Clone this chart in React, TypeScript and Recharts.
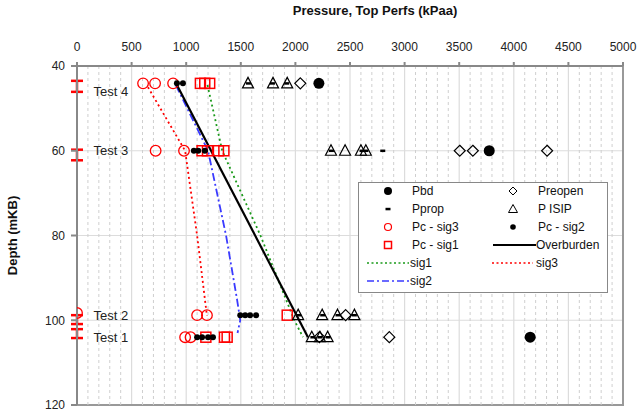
import React from "react";
import {
  ScatterChart,
  Scatter,
  XAxis,
  YAxis,
  CartesianGrid,
  ReferenceLine,
  ReferenceArea,
  ErrorBar,
  LabelList,
} from "recharts";

type Pt = { x: number; y: number };

// axes
const xTicks = [0, 500, 1000, 1500, 2000, 2500, 3000, 3500, 4000, 4500, 5000];
const yTicks = [40, 60, 80, 100, 120];
const minorX: number[] = [];
for (let v = 100; v < 5000; v += 100) if (v % 500 !== 0) minorX.push(v);

// test intervals (perf depth, half span) and label depth
const tests = [
  { x: 0, y: 44.8, span: 1.3, label: "Test 4", labelY: 45.9 },
  { x: 0, y: 61.0, span: 1.25, label: "Test 3", labelY: 60.0 },
  { x: 0, y: 99.85, span: 1.05, label: "Test 2", labelY: 98.9 },
  { x: 0, y: 103.15, span: 1.05, label: "Test 1", labelY: 104.0 },
];

// point data
const pbd: Pt[] = [
  { x: 2215, y: 44.1 },
  { x: 3775, y: 60 },
  { x: 4150, y: 104 },
];
const pprop: Pt[] = [
  { x: 1570, y: 44.1 }, { x: 1790, y: 44.1 }, { x: 1920, y: 44.1 },
  { x: 1175, y: 60 }, { x: 2330, y: 60 }, { x: 2610, y: 60 }, { x: 2645, y: 60 }, { x: 2800, y: 60 },
  { x: 2030, y: 98.8 }, { x: 2250, y: 98.8 }, { x: 2390, y: 98.8 }, { x: 2540, y: 98.8 },
  { x: 2160, y: 104 }, { x: 2225, y: 104 }, { x: 2300, y: 104 },
];
const preopen: Pt[] = [
  { x: 2045, y: 44.1 },
  { x: 3505, y: 60 }, { x: 3625, y: 60 }, { x: 4305, y: 60 },
  { x: 2460, y: 98.8 },
  { x: 2220, y: 104 }, { x: 2860, y: 104 },
];
const pisip: Pt[] = [
  { x: 1566, y: 44.1 }, { x: 1795, y: 44.1 }, { x: 1925, y: 44.1 },
  { x: 2326, y: 60 }, { x: 2455, y: 60 }, { x: 2600, y: 60 }, { x: 2645, y: 60 },
  { x: 2025, y: 98.8 }, { x: 2245, y: 98.8 }, { x: 2385, y: 98.8 }, { x: 2540, y: 98.8 },
  { x: 2150, y: 104 }, { x: 2225, y: 104 }, { x: 2295, y: 104 },
];
const pcSig3: Pt[] = [
  { x: 605, y: 44.1 }, { x: 715, y: 44.1 }, { x: 880, y: 44.1 },
  { x: 720, y: 60 }, { x: 980, y: 60 },
  { x: 0, y: 98.3 }, { x: 1100, y: 98.8 }, { x: 1190, y: 98.8 },
  { x: 990, y: 104 }, { x: 1040, y: 104 },
];
const pcSig2: Pt[] = [
  { x: 915, y: 44.1 }, { x: 970, y: 44.1 },
  { x: 1070, y: 60 }, { x: 1110, y: 60 }, { x: 1170, y: 60 },
  { x: 1495, y: 98.8 }, { x: 1540, y: 98.8 }, { x: 1585, y: 98.8 }, { x: 1640, y: 98.8 },
  { x: 1100, y: 104 }, { x: 1145, y: 104 }, { x: 1200, y: 104 }, { x: 1245, y: 104 },
];
const pcSig1: Pt[] = [
  { x: 1130, y: 44.1 }, { x: 1170, y: 44.1 }, { x: 1215, y: 44.1 },
  { x: 1145, y: 60 }, { x: 1195, y: 60 }, { x: 1295, y: 60 }, { x: 1345, y: 60 },
  { x: 1925, y: 98.8 },
  { x: 1180, y: 104 }, { x: 1350, y: 104 }, { x: 1375, y: 104 },
];

// line data
const overburden: Pt[] = [
  { x: 915, y: 44.5 },
  { x: 2115, y: 104 },
];
const sig1: Pt[] = [
  { x: 1195, y: 44.5 },
  { x: 1330, y: 60 },
  { x: 1680, y: 80 },
  { x: 1990, y: 100 },
  { x: 2070, y: 104 },
];
const sig3: Pt[] = [
  { x: 650, y: 45 },
  { x: 990, y: 60 },
  { x: 1100, y: 80 },
  { x: 1190, y: 99 },
];
const sig2: Pt[] = [
  { x: 905, y: 44.5 },
  { x: 1200, y: 60 },
  { x: 1365, y: 80 },
  { x: 1465, y: 95 },
  { x: 1495, y: 100 },
  { x: 1470, y: 103 },
];

const RED = "#ff0000";
const GREEN = "#1a9a1a";
const BLUE = "#3a3aff";
const FONT = "'Liberation Sans', Arial, sans-serif";

const none = () => <g />;
const pbdShape = (p: any) => <circle cx={p.cx} cy={p.cy} r={5.5} fill="#000" />;
const ppropShape = (p: any) => <rect x={p.cx - 2.5} y={p.cy - 1.2} width={5} height={2.5} fill="#000" />;
const sig3Shape = (p: any) => <circle cx={p.cx} cy={p.cy} r={5.3} fill="none" stroke={RED} strokeWidth={1.3} />;
const sig2Shape = (p: any) => <circle cx={p.cx} cy={p.cy} r={3} fill="#000" />;
const sig1Shape = (p: any) => (
  <rect x={p.cx - 5} y={p.cy - 5} width={10} height={10} fill="none" stroke={RED} strokeWidth={1.5} />
);
const triShape = (p: any) => (
  <polygon
    points={`${p.cx},${p.cy - 6} ${p.cx - 5.5},${p.cy + 4.5} ${p.cx + 5.5},${p.cy + 4.5}`}
    fill="none"
    stroke="#000"
    strokeWidth={1.2}
  />
);
const diaShape = (p: any) => (
  <polygon
    points={`${p.cx},${p.cy - 5.5} ${p.cx + 5.5},${p.cy} ${p.cx},${p.cy + 5.5} ${p.cx - 5.5},${p.cy}`}
    fill="none"
    stroke="#000"
    strokeWidth={1.2}
  />
);

function LegendBox() {
  const rows = [9, 27, 45, 63, 81, 99];
  const lx = 30;
  const rx = 155;
  const txt = (x: number, y: number, s: string) => (
    <text x={x} y={y} dy="0.35em" fontSize={12} fontFamily={FONT} fill="#111">
      {s}
    </text>
  );
  return (
    <svg
      width={250}
      height={111}
      style={{ position: "absolute", left: 358, top: 182 }}
    >
      <rect x={0.5} y={0.5} width={249} height={110} fill="#fff" stroke="#888" />
      <circle cx={lx} cy={rows[0]} r={4} fill="#000" />
      {txt(54, rows[0], "Pbd")}
      <rect x={lx - 2.5} y={rows[1] - 1.2} width={5} height={2.5} fill="#000" />
      {txt(54, rows[1], "Pprop")}
      <circle cx={lx} cy={rows[2]} r={3.5} fill="none" stroke={RED} strokeWidth={1.2} />
      {txt(54, rows[2], "Pc - sig3")}
      <rect x={lx - 3.5} y={rows[3] - 3.5} width={7} height={7} fill="none" stroke={RED} strokeWidth={1.5} />
      {txt(54, rows[3], "Pc - sig1")}
      <line x1={9} x2={51} y1={rows[4]} y2={rows[4]} stroke={GREEN} strokeWidth={1.5} strokeDasharray="2 2.5" />
      {txt(52, rows[4], "sig1")}
      <line x1={9} x2={51} y1={rows[5]} y2={rows[5]} stroke={BLUE} strokeWidth={1.5} strokeDasharray="7 3 2 3" />
      {txt(52, rows[5], "sig2")}

      <polygon
        points={`${rx},${rows[0] - 4} ${rx + 4},${rows[0]} ${rx},${rows[0] + 4} ${rx - 4},${rows[0]}`}
        fill="none"
        stroke="#000"
      />
      {txt(180, rows[0], "Preopen")}
      <polygon
        points={`${rx},${rows[1] - 4.5} ${rx - 4.5},${rows[1] + 3.5} ${rx + 4.5},${rows[1] + 3.5}`}
        fill="none"
        stroke="#000"
      />
      {txt(180, rows[1], "P ISIP")}
      <circle cx={rx} cy={rows[2]} r={2.8} fill="#000" />
      {txt(180, rows[2], "Pc - sig2")}
      <line x1={135} x2={178} y1={rows[3]} y2={rows[3]} stroke="#000" strokeWidth={2} />
      {txt(178, rows[3], "Overburden")}
      <line x1={134} x2={175} y1={rows[4]} y2={rows[4]} stroke={RED} strokeWidth={1.5} strokeDasharray="2 2.5" />
      {txt(178, rows[4], "sig3")}
    </svg>
  );
}

const lineSeries = (data: Pt[], stroke: string, width: number, dash?: string) => (
  <Scatter
    data={data}
    shape={none}
    line={{ stroke, strokeWidth: width, strokeDasharray: dash }}
    lineType="joint"
    legendType="none"
    isAnimationActive={false}
  />
);

export default function App() {
  return (
    <div style={{ position: "absolute", left: 0, top: 0, width: 638, height: 412, background: "#fff", fontFamily: FONT }}>
      <ScatterChart width={638} height={412} margin={{ top: 0, right: 15, bottom: 7, left: 0 }}>
        {minorX.map((v) => (
          <ReferenceLine key={v} x={v} stroke="#cfcfcf" strokeDasharray="3 3" />
        ))}
        <CartesianGrid stroke="#dcdcdc" strokeWidth={1.2} />
        <ReferenceArea x1={0} x2={5000} y1={40} y2={120} fill="none" stroke="#999" strokeWidth={2} />
        <XAxis
          type="number"
          dataKey="x"
          orientation="top"
          domain={[0, 5000]}
          ticks={xTicks}
          height={66}
          tickSize={4}
          tickMargin={11}
          allowDataOverflow
          stroke="#888"
          strokeWidth={2}
          tick={{ fontSize: 12, fill: "#222", fontFamily: FONT }}
          label={{
            value: "Pressure, Top Perfs (kPaa)",
            position: "insideTop",
            offset: 6,
            dx: 25,
            style: { fontSize: 13, fontWeight: "bold", fill: "#111", fontFamily: FONT },
          }}
        />
        <YAxis
          type="number"
          dataKey="y"
          reversed
          domain={[40, 120]}
          ticks={yTicks}
          width={77}
          tickSize={6}
          tickMargin={6}
          allowDataOverflow
          stroke="#888"
          strokeWidth={2}
          tick={{ fontSize: 12, fill: "#222", fontFamily: FONT }}
          label={{
            value: "Depth (mKB)",
            angle: -90,
            position: "insideLeft",
            offset: 12,
            style: { fontSize: 13, fontWeight: "bold", fill: "#111", fontFamily: FONT, textAnchor: "middle" },
          }}
        />

        {lineSeries(sig3, RED, 1.8, "2 3")}
        {lineSeries(sig2, BLUE, 1.8, "8 3 2 3")}
        {lineSeries(sig1, GREEN, 1.8, "2 3")}
        {lineSeries(overburden, "#000", 2.2)}

        <Scatter data={tests} shape={none} legendType="none" isAnimationActive={false}>
          <ErrorBar dataKey="span" direction="y" width={6} stroke={RED} strokeWidth={2.5} />
        </Scatter>
        <Scatter
          data={tests.map((t) => ({ x: t.x, y: t.labelY, label: t.label }))}
          shape={none}
          legendType="none"
          isAnimationActive={false}
        >
          <LabelList
            dataKey="label"
            position="right"
            offset={12}
            style={{ fontSize: 13, fill: "#222", fontFamily: FONT }}
          />
        </Scatter>

        <Scatter data={pcSig3} shape={sig3Shape} isAnimationActive={false} />
        <Scatter data={pcSig1} shape={sig1Shape} isAnimationActive={false} />
        <Scatter data={pcSig2} shape={sig2Shape} isAnimationActive={false} />
        <Scatter data={pisip} shape={triShape} isAnimationActive={false} />
        <Scatter data={preopen} shape={diaShape} isAnimationActive={false} />
        <Scatter data={pprop} shape={ppropShape} isAnimationActive={false} />
        <Scatter data={pbd} shape={pbdShape} isAnimationActive={false} />
      </ScatterChart>
      <LegendBox />
    </div>
  );
}
